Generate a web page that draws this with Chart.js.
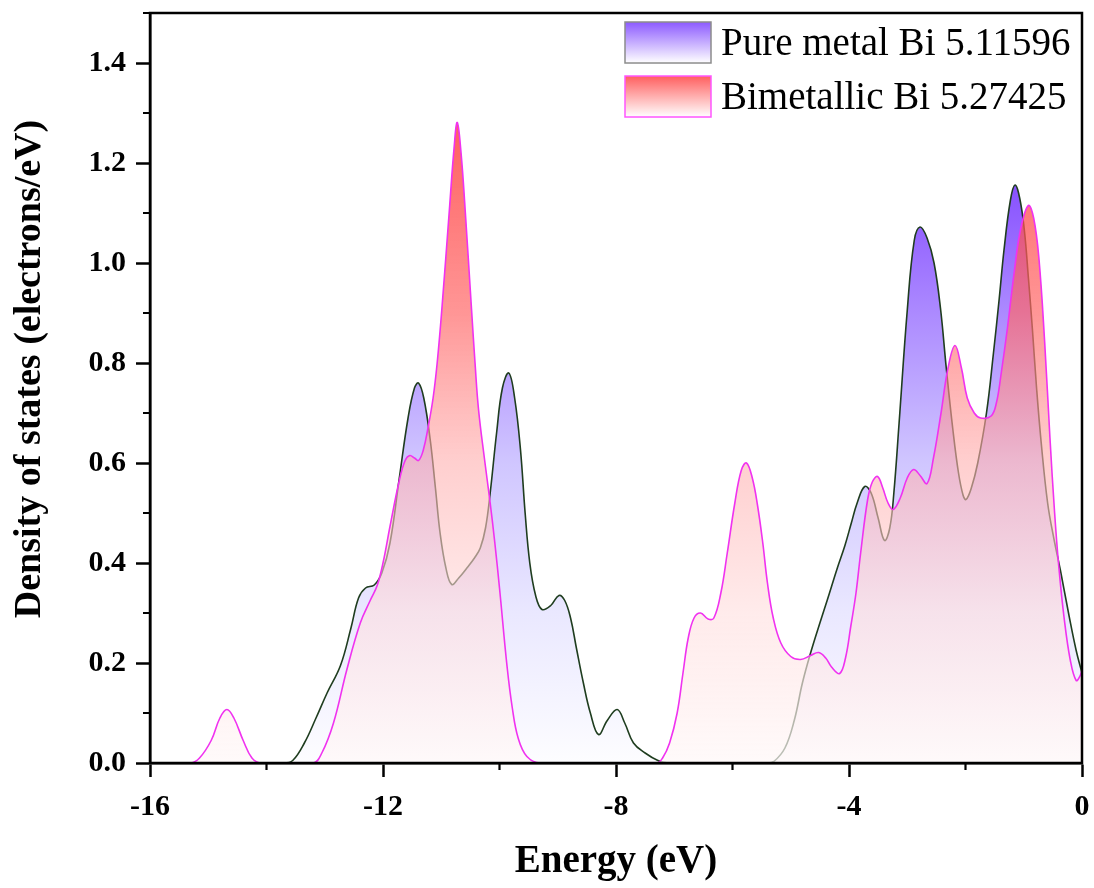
<!DOCTYPE html>
<html>
<head>
<meta charset="utf-8">
<script src="https://cdn.jsdelivr.net/npm/chart.js@4.4.1/dist/chart.umd.min.js"></script>
<style>
html,body{margin:0;padding:0;background:#fff;}
canvas{display:block;}
</style>
</head>
<body>
<canvas id="c" width="1094" height="888"></canvas>
<script>
// ---- data ----
const seriesNames = ['Pure metal Bi 5.11596', 'Bimetallic Bi 5.27425'];

// [energy (eV), DOS (electrons/eV)]
const pureMetal = [
  [-16,0],[-13.7,0],[-13.55,0.005],[-13.35,0.04],[-13.15,0.09],[-12.96,0.14],[-12.73,0.195],
  [-12.55,0.27],[-12.42,0.33],[-12.30,0.35],[-12.15,0.356],[-12.02,0.38],[-11.88,0.44],
  [-11.72,0.57],[-11.57,0.69],[-11.46,0.75],[-11.39,0.76],[-11.30,0.73],[-11.19,0.647],
  [-11.10,0.55],[-11.02,0.46],[-10.92,0.39],[-10.82,0.357],[-10.70,0.37],[-10.56,0.39],
  [-10.43,0.41],[-10.33,0.43],[-10.24,0.47],[-10.16,0.54],[-10.05,0.66],[-9.95,0.75],
  [-9.84,0.78],[-9.74,0.73],[-9.64,0.627],[-9.56,0.50],[-9.48,0.40],[-9.38,0.335],
  [-9.27,0.307],[-9.12,0.315],[-8.98,0.335],[-8.88,0.325],[-8.78,0.29],[-8.68,0.23],
  [-8.56,0.16],[-8.44,0.100],[-8.30,0.057],[-8.15,0.085],[-7.98,0.107],[-7.85,0.08],
  [-7.70,0.04],[-7.50,0.02],[-7.28,0.005],[-7.1,0],[-5.4,0],[-5.29,0.003],[-5.10,0.03],
  [-4.94,0.085],[-4.80,0.16],[-4.66,0.22],[-4.50,0.28],[-4.37,0.327],[-4.20,0.39],
  [-4.07,0.435],[-3.96,0.48],[-3.86,0.52],[-3.73,0.553],[-3.62,0.54],[-3.50,0.49],
  [-3.39,0.445],[-3.30,0.47],[-3.23,0.54],[-3.14,0.68],[-3.00,0.905],[-2.88,1.045],
  [-2.78,1.072],[-2.66,1.05],[-2.54,1.0],[-2.43,0.91],[-2.33,0.79],[-2.22,0.67],
  [-2.12,0.58],[-2.04,0.535],[-1.99,0.527],[-1.90,0.55],[-1.79,0.60],[-1.64,0.70],
  [-1.52,0.82],[-1.42,0.93],[-1.34,1.025],[-1.23,1.125],[-1.15,1.156],[-1.07,1.13],
  [-0.99,1.066],[-0.92,0.97],[-0.85,0.865],[-0.78,0.75],[-0.70,0.64],[-0.59,0.52],
  [-0.48,0.447],[-0.37,0.385],[-0.22,0.293],[-0.10,0.225],[0,0.18]
];

const bimetallic = [
  [-16,0],[-15.3,0],[-15.15,0.01],[-14.95,0.045],[-14.80,0.09],[-14.68,0.107],[-14.56,0.09],
  [-14.40,0.045],[-14.25,0.01],[-14.1,0],[-13.2,0],[-13.05,0.02],[-12.85,0.08],[-12.62,0.187],
  [-12.39,0.28],[-12.22,0.325],[-12.10,0.355],[-12.00,0.40],[-11.88,0.473],[-11.72,0.565],
  [-11.62,0.605],[-11.54,0.615],[-11.46,0.61],[-11.39,0.605],[-11.31,0.625],[-11.22,0.675],
  [-11.14,0.73],[-11.07,0.80],[-10.99,0.907],[-10.86,1.107],[-10.78,1.23],[-10.725,1.281],
  [-10.66,1.22],[-10.59,1.107],[-10.48,0.907],[-10.42,0.80],[-10.36,0.707],[-10.26,0.61],
  [-10.16,0.52],[-10.08,0.44],[-10.00,0.35],[-9.87,0.193],[-9.78,0.11],[-9.68,0.05],
  [-9.53,0.013],[-9.3,0],[-7.3,0],[-7.2,0.01],[-7.08,0.04],[-6.95,0.10],[-6.85,0.18],
  [-6.76,0.25],[-6.66,0.29],[-6.55,0.30],[-6.42,0.288],[-6.32,0.29],[-6.20,0.34],
  [-6.09,0.42],[-5.96,0.52],[-5.85,0.585],[-5.76,0.60],[-5.66,0.57],[-5.57,0.515],
  [-5.48,0.44],[-5.40,0.36],[-5.30,0.29],[-5.17,0.24],[-5.0,0.213],
  [-4.83,0.207],[-4.66,0.215],[-4.52,0.221],[-4.40,0.21],[-4.30,0.192],[-4.16,0.179],
  [-4.06,0.21],[-3.97,0.273],[-3.88,0.34],[-3.80,0.42],[-3.68,0.527],[-3.60,0.562],
  [-3.51,0.573],[-3.42,0.55],[-3.33,0.52],[-3.24,0.507],[-3.12,0.53],[-3.00,0.57],
  [-2.89,0.587],[-2.78,0.575],[-2.66,0.559],[-2.55,0.61],[-2.42,0.70],[-2.30,0.79],
  [-2.18,0.835],[-2.07,0.79],[-1.97,0.73],[-1.85,0.70],[-1.74,0.69],[-1.56,0.694],
  [-1.47,0.72],[-1.39,0.777],[-1.28,0.87],[-1.16,0.985],[-1.05,1.07],[-0.92,1.115],
  [-0.83,1.09],[-0.74,1.01],[-0.64,0.84],[-0.55,0.65],[-0.47,0.50],[-0.40,0.395],
  [-0.31,0.293],[-0.20,0.205],[-0.10,0.165],[-0.03,0.175],[0,0.187]
];

const xMinorTicks = [-14, -10, -6, -2];
const yMinorTicks = [0.1, 0.3, 0.5, 0.7, 0.9, 1.1, 1.3, 1.5];
const xTitle = 'Energy (eV)';
const yTitle = 'Density of states (electrons/eV)';

// ---- styling ----
const SERIF = "'Liberation Serif', 'Times New Roman', serif";

function gradientFill(context, stops) {
  const chart = context.chart;
  const area = chart.chartArea;
  if (!area) return 'rgba(0,0,0,0)';
  const ys = chart.scales.y;
  const top = stops[0][0];
  const g = chart.ctx.createLinearGradient(0, ys.getPixelForValue(top), 0, ys.getPixelForValue(0));
  stops.forEach(s => g.addColorStop((top - s[0]) / top, s[1]));
  return g;
}

const pureStops = [
  [1.16, 'rgb(135,80,255)'],
  [0.9, 'rgb(172,138,255)'],
  [0.6, 'rgb(208,198,255)'],
  [0.3, 'rgb(234,232,255)'],
  [0, 'rgb(253,253,255)']
];
const bimStops = [
  [1.28, 'rgba(255,55,55,0.8)'],
  [0.9, 'rgba(255,105,105,0.7)'],
  [0.6, 'rgba(255,175,175,0.6)'],
  [0.3, 'rgba(255,222,222,0.6)'],
  [0, 'rgba(255,248,248,0.7)']
];

const toXY = arr => arr.map(p => ({x: p[0], y: p[1]}));

const decor = {
  id: 'decor',
  afterDraw(chart) {
    const {ctx, chartArea: a, scales} = chart;
    const x = scales.x, y = scales.y;
    ctx.save();
    ctx.strokeStyle = '#000';
    ctx.lineWidth = 2.5;
    ctx.beginPath();
    ctx.moveTo(a.left, a.bottom);
    ctx.lineTo(a.left, a.top);
    ctx.lineTo(a.right, a.top);
    ctx.lineTo(a.right, a.bottom);
    ctx.lineTo(a.left, a.bottom);
    ctx.closePath();
    ctx.stroke();
    // minor ticks
    ctx.lineWidth = 2.2;
    ctx.beginPath();
    xMinorTicks.forEach(v => {
      const px = x.getPixelForValue(v);
      ctx.moveTo(px, a.bottom); ctx.lineTo(px, a.bottom + 7);
    });
    yMinorTicks.forEach(v => {
      const py = y.getPixelForValue(v);
      ctx.moveTo(a.left - 7, py); ctx.lineTo(a.left, py);
    });
    ctx.stroke();
    // y title
    ctx.fillStyle = '#000';
    ctx.font = 'bold 38px ' + SERIF;
    ctx.textAlign = 'center';
    ctx.textBaseline = 'middle';
    ctx.translate(30, 369);
    ctx.rotate(-Math.PI / 2);
    ctx.fillText(yTitle, 0, 0);
    ctx.restore();

    // legend
    ctx.save();
    const items = [
      {y: 22, top: 'rgb(140,90,255)', border: '#8c8c8c'},
      {y: 76, top: 'rgb(255,95,95)', border: '#ff55ff'}
    ];
    items.forEach((it, i) => {
      const g = ctx.createLinearGradient(0, it.y, 0, it.y + 41);
      g.addColorStop(0, it.top);
      g.addColorStop(1, '#ffffff');
      ctx.fillStyle = g;
      ctx.fillRect(625, it.y, 86, 41);
      ctx.strokeStyle = it.border;
      ctx.lineWidth = 1.5;
      ctx.strokeRect(625, it.y, 86, 41);
      ctx.fillStyle = '#000';
      ctx.font = '39px ' + SERIF;
      ctx.textAlign = 'left';
      ctx.textBaseline = 'alphabetic';
      ctx.fillText(seriesNames[i], 721, it.y + 33);
    });
    ctx.restore();
  }
};

new Chart(document.getElementById('c'), {
  type: 'line',
  data: {
    datasets: [
      {
        label: seriesNames[0],
        data: toXY(pureMetal),
        borderColor: '#1f3d1f',
        borderWidth: 1.6,
        fill: 'origin',
        backgroundColor: ctx => gradientFill(ctx, pureStops),
        pointRadius: 0,
        tension: 0.4,
        order: 2
      },
      {
        label: seriesNames[1],
        data: toXY(bimetallic),
        borderColor: '#f032f0',
        borderWidth: 1.6,
        fill: 'origin',
        backgroundColor: ctx => gradientFill(ctx, bimStops),
        pointRadius: 0,
        tension: 0.4,
        order: 1
      }
    ]
  },
  options: {
    responsive: false,
    animation: false,
    devicePixelRatio: 1,
    layout: {padding: {left: 0, top: 13, right: 12, bottom: 0}},
    plugins: {legend: {display: false}, tooltip: {enabled: false}},
    scales: {
      x: {
        type: 'linear',
        min: -16, max: 0,
        ticks: {
          stepSize: 4,
          color: '#000',
          padding: 12,
          font: {family: SERIF, size: 30, weight: 'bold'},
          callback: v => String(v)
        },
        grid: {display: true, drawOnChartArea: false, drawTicks: true, tickLength: 14, tickWidth: 2.5, tickColor: '#000'},
        border: {display: true, width: 2.5, color: '#000'},
        title: {
          display: true,
          text: xTitle,
          color: '#000',
          font: {family: SERIF, size: 39, weight: 'bold'},
          padding: {top: 0, bottom: 3}
        },
        afterFit: s => { s.height = 125; s.paddingLeft = 0; s.paddingRight = 0; }
      },
      y: {
        type: 'linear',
        min: 0, max: 1.5,
        ticks: {
          stepSize: 0.2,
          includeBounds: false,
          color: '#000',
          padding: 10,
          font: {family: SERIF, size: 30, weight: 'bold'},
          callback: v => Number(v).toFixed(1)
        },
        grid: {display: true, drawOnChartArea: false, drawTicks: true, tickLength: 14, tickWidth: 2.5, tickColor: '#000'},
        border: {display: true, width: 2.5, color: '#000'},
        afterFit: s => { s.width = 150; s.paddingTop = 0; s.paddingBottom = 0; }
      }
    }
  },
  plugins: [decor]
});
</script>
</body>
</html>
